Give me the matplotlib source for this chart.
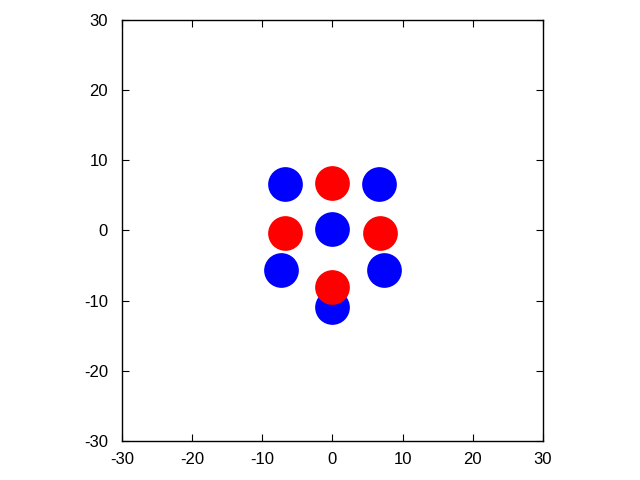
import matplotlib
matplotlib.use("Agg")
import matplotlib.pyplot as plt

plt.rcParams['font.family'] = ['Liberation Sans', 'DejaVu Sans']
plt.rcParams['axes.unicode_minus'] = False

# point positions
blue_x = [-6.7, 6.6, 0.0, -7.3, 7.3, 0.0]
blue_y = [6.6, 6.6, 0.2, -5.6, -5.6, -10.9]
red_x = [0.0, -6.8, 6.8, 0.0]
red_y = [6.8, -0.3, -0.3, -8.1]

ticks = [-30, -20, -10, 0, 10, 20, 30]

fig = plt.figure(figsize=(6.4, 4.8), dpi=100)
ax = fig.add_axes([0.1906, 0.08125, 0.6578, 0.8771])

ax.plot(blue_x, blue_y, 'o', color='#0000ff', markersize=25, markeredgewidth=0)
ax.plot(red_x, red_y, 'o', color='#ff0000', markersize=25, markeredgewidth=0)

ax.set_xlim(-30, 30)
ax.set_ylim(-30, 30)
ax.set_xticks(ticks)
ax.set_yticks(ticks)
ax.tick_params(direction='in', top=True, right=True, length=5, width=0.8,
               labelsize=12)
ax.tick_params(axis='x', pad=8)
ax.tick_params(axis='y', pad=10)
for s in ax.spines.values():
    s.set_linewidth(1.0)

fig.savefig("out.png", dpi=100)
